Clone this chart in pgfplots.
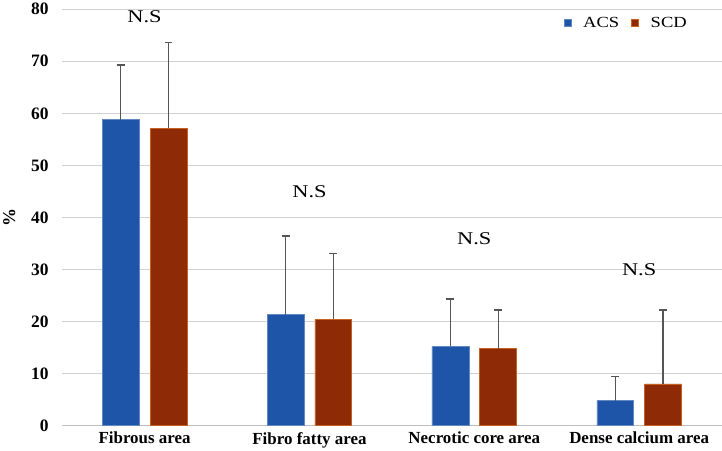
\documentclass[border=0pt]{standalone}
\usepackage{pgfplots}
\pgfplotsset{compat=1.18}
\usepackage{fontspec}
\setmainfont{Liberation Serif}
\newfontfamily\nsfont[FakeStretch=1.25]{Liberation Serif}
\newfontfamily\legfont[FakeStretch=1.2]{Liberation Serif}
\definecolor{acs}{HTML}{1F55A8}
\definecolor{scd}{HTML}{8E2A06}
\definecolor{scdedge}{HTML}{C8601E}
\definecolor{errc}{HTML}{555555}
\begin{document}
\begin{tikzpicture}
\begin{axis}[
  scale only axis,
  width=662pt, height=418pt,
  ymin=0, ymax=80, ytick={0,10,...,80},
  xmin=-0.5, xmax=3.5,
  xtick={0,1,2,3},
  xticklabels={Fibrous area, Fibro fatty area, Necrotic core area, Dense calcium area},
  ybar=11pt, bar width=37pt,
  axis x line*=bottom, axis y line*=left,
  y axis line style={draw=none},
  x axis line style={draw=black!25, line width=0.8pt},
  major tick length=0pt,
  ymajorgrids, grid style={draw=black!18, line width=0.8pt},
  /pgf/number format/assume math mode=true,
  yticklabel style={font=\fontsize{17.5}{17.5}\selectfont\bfseries, xshift=-10pt},
  xticklabel style={font=\fontsize{17}{17}\selectfont\bfseries, yshift=-3pt},
  ylabel={\%}, ylabel style={font=\fontsize{18}{18}\selectfont\bfseries, at={(axis description cs:-0.08,0.5)}, anchor=center},
  legend style={at={(0.955,0.9665)}, anchor=east, draw=none, fill=none, font=\fontsize{15.5}{15.5}\legfont, column sep=10pt,
    /tikz/every even column/.append style={column sep=10pt}},
  legend columns=2,
  legend image code/.code={\fill[#1] (0pt,-3.5pt) rectangle (7pt,3.5pt);},
  clip=false,
  error bars/y dir=plus, error bars/y explicit,
  error bars/error bar style={errc, line width=1.3pt},
  error bars/error mark options={errc, line width=1.3pt, rotate=90, mark size=4pt},
]
\addplot[fill=acs, draw=acs!70!white, line width=0.5pt, error bars/.cd, y dir=plus, y explicit] coordinates {
 (0,58.8) +- (0,10.5)
 (1,21.3) +- (0,15.1)
 (2,15.2) +- (0,9.1)
 (3,4.8) +- (0,4.6)
};
\addplot[fill=scd, draw=scdedge, line width=0.6pt, error bars/.cd, y dir=plus, y explicit] coordinates {
 (0,57.1) +- (0,16.5)
 (1,20.4) +- (0,12.6)
 (2,14.8) +- (0,7.4)
 (3,8.0) +- (0,14.2)
};
\legend{ACS, SCD}
\node[font=\fontsize{18}{18}\nsfont] at (axis cs:0,78.6) {N.S};
\node[font=\fontsize{18}{18}\nsfont] at (axis cs:1,45.0) {N.S};
\node[font=\fontsize{18}{18}\nsfont] at (axis cs:2,36.0) {N.S};
\node[font=\fontsize{18}{18}\nsfont] at (axis cs:3,29.9) {N.S};
\end{axis}
\end{tikzpicture}
\end{document}
